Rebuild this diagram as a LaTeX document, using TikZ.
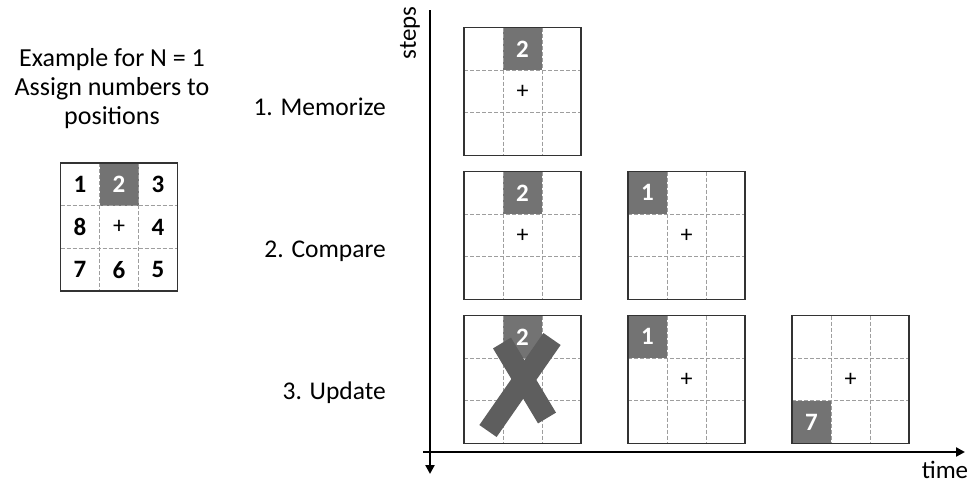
\documentclass[tikz,border=0pt]{standalone}
\usepackage{fontspec}
\setmainfont{Carlito}
\usetikzlibrary{arrows.meta,calc}
\definecolor{cellgray}{HTML}{737373}
\definecolor{xgray}{HTML}{5E5E5E}
\definecolor{dashgray}{HTML}{9E9E9E}
\tikzset{
  gridbox/.style={minimum width=117pt,minimum height=128pt,inner sep=0pt,outer sep=0pt,fill=white},
  gridline/.style={draw=dashgray,dash pattern=on 4pt off 2pt,line width=0.9pt},
  boxline/.style={draw=black!80,line width=1.2pt},
  cellnum/.style={font=\fontsize{25}{27}\selectfont\bfseries,inner sep=0pt},
  plusmark/.style={font=\fontsize{24}{26}\selectfont,inner sep=0pt},
  steplabel/.style={font=\fontsize{25.5}{28}\selectfont,anchor=east,inner sep=0pt},
  axis/.style={line width=2.4pt,-{Triangle[length=9pt,width=9pt]}},
  xstroke/.style={draw=xgray,line width=21pt},
}
\newcommand\gridat[4]{%
  \node[gridbox] (#1) at (#2,#3) {};
  #4
  \draw[gridline] ($(#1.north west)+(39,0)$) -- ($(#1.south west)+(39,0)$)
                  ($(#1.north west)+(78,0)$) -- ($(#1.south west)+(78,0)$)
                  ($(#1.north west)+(0,42.667)$) -- ($(#1.north east)+(0,42.667)$)
                  ($(#1.north west)+(0,85.333)$) -- ($(#1.north east)+(0,85.333)$);
  \node[plusmark] (#1c) at (#1.center) {+};
  \draw[boxline] (#1.north west) rectangle (#1.south east);
}
\newcommand\graycell[4]{%
  \fill[cellgray] ($(#1.north west)+(#2*39,#3*42.667)$) rectangle ++(39,42.667);
  \node[cellnum,text=white] (#1n#4) at ($(#1.north west)+(#2*39+19.5,#3*42.667+21.333)$) {#4};
}
\newcommand\blackcell[4]{%
  \node[cellnum,text=black] (#1n#4) at ($(#1.north west)+(#2*39+19.5,#3*42.667+21.333)$) {#4};
}
\begin{document}
\begin{tikzpicture}[x=1pt,y=-1pt]
\useasboundingbox (0,0) rectangle (975,485);
% left title
\node[font=\fontsize{26}{29}\selectfont,align=center,inner sep=0pt] (title) at (112,88.5) {Example for N = 1\\Assign numbers to\\positions};
% example grid
\gridat{ex}{119}{227}{%
  \graycell{ex}{1}{0}{2}
  \blackcell{ex}{0}{0}{1}
  \blackcell{ex}{2}{0}{3}
  \blackcell{ex}{0}{1}{8}
  \blackcell{ex}{2}{1}{4}
  \blackcell{ex}{0}{2}{7}
  \blackcell{ex}{1}{2}{6}
  \blackcell{ex}{2}{2}{5}
}
% step labels
\node[steplabel] (l1) at (386,107) {1. Memorize};
\node[steplabel] (l2) at (386,251) {2. Compare};
\node[steplabel] (l3) at (386,393) {3. Update};
% axes
\coordinate (vtop) at (430,10);
\coordinate (vbot) at (430,474);
\coordinate (hleft) at (423,452);
\coordinate (hright) at (965,452);
\draw[axis] (vtop) -- (vbot);
\draw[axis] (hleft) -- (hright);
\node[font=\fontsize{25}{27}\selectfont,rotate=90,inner sep=0pt] (steps) at (410,33) {steps};
\node[font=\fontsize{25}{27}\selectfont,inner sep=0pt,anchor=base] (time) at (945,478) {time};
% row 1
\gridat{a}{522.5}{91.5}{\graycell{a}{1}{0}{2}}
% row 2
\gridat{b}{522.5}{235.5}{\graycell{b}{1}{0}{2}}
\gridat{c}{686.5}{235.5}{\graycell{c}{0}{0}{1}}
% row 3
\gridat{d}{522.5}{379.5}{\graycell{d}{1}{0}{2}}
\gridat{e}{686.5}{379.5}{\graycell{e}{0}{0}{1}}
\gridat{f}{850.5}{379.5}{\graycell{f}{0}{2}{7}}
% cross
\coordinate (x1a) at (488,431);
\coordinate (x1b) at (552,339);
\coordinate (x2a) at (502,343);
\coordinate (x2b) at (547,418);
\draw[xstroke] (x1a) -- (x1b);
\draw[xstroke] (x2a) -- (x2b);
\end{tikzpicture}
\end{document}
